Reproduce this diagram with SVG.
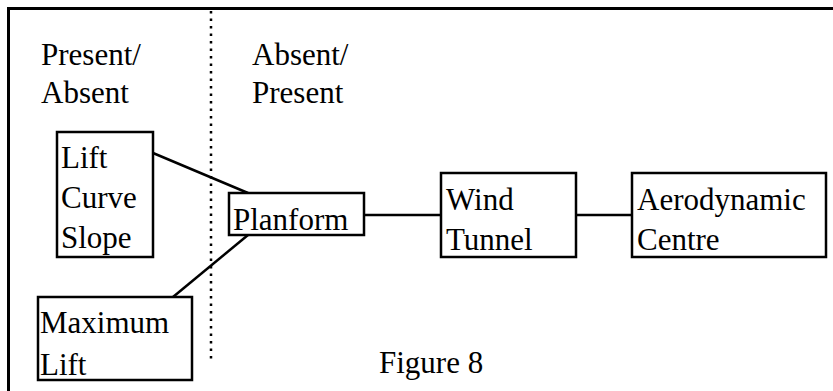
<svg xmlns="http://www.w3.org/2000/svg" width="833" height="391" viewBox="0 0 833 391">
  <style>
    text { font-family: "Liberation Serif", "Times New Roman", serif; font-size: 31px; fill: #000; }
    .box { fill: #fff; stroke: #000; stroke-width: 2.5; }
    .wire { stroke: #000; stroke-width: 2.5; fill: none; }
    .frame { stroke: #000; stroke-width: 3; fill: none; }
    .divider { stroke: #000; stroke-width: 2.5; stroke-dasharray: 2.5 5; fill: none; }
  </style>
  <rect width="833" height="391" fill="#fff"/>

  <!-- outer frame (top and left edges) -->
  <path class="frame" d="M8.5,391 V8.5 H833"/>

  <!-- dotted divider between the two zones -->
  <line class="divider" x1="211" y1="11" x2="211" y2="359"/>

  <!-- zone headings -->
  <g id="heading-left">
    <text x="41" y="65">Present/</text>
    <text x="41" y="103">Absent</text>
  </g>
  <g id="heading-right">
    <text x="252" y="65">Absent/</text>
    <text x="252" y="103">Present</text>
  </g>

  <!-- connectors -->
  <g id="connectors">
    <line class="wire" x1="153" y1="153" x2="248" y2="193"/>
    <line class="wire" x1="173" y1="297" x2="248" y2="235"/>
    <line class="wire" x1="364" y1="215" x2="441" y2="215"/>
    <line class="wire" x1="576" y1="215" x2="632" y2="215"/>
  </g>

  <g id="lift-curve-slope">
    <rect class="box" x="57" y="132" width="96" height="125"/>
    <text x="61" y="168">Lift</text>
    <text x="61" y="208">Curve</text>
    <text x="61" y="248">Slope</text>
  </g>

  <g id="maximum-lift">
    <rect class="box" x="38" y="297" width="154" height="83"/>
    <text x="40" y="333">Maximum</text>
    <text x="40" y="375">Lift</text>
  </g>

  <g id="planform">
    <rect class="box" x="229" y="193" width="135" height="42"/>
    <text x="233" y="230">Planform</text>
  </g>

  <g id="wind-tunnel">
    <rect class="box" x="441" y="173" width="135" height="84"/>
    <text x="446" y="210">Wind</text>
    <text x="446" y="250">Tunnel</text>
  </g>

  <g id="aerodynamic-centre">
    <rect class="box" x="632" y="173" width="194" height="84"/>
    <text x="637" y="210">Aerodynamic</text>
    <text x="637" y="250">Centre</text>
  </g>

  <!-- caption -->
  <text id="caption" x="379" y="373">Figure 8</text>
</svg>
